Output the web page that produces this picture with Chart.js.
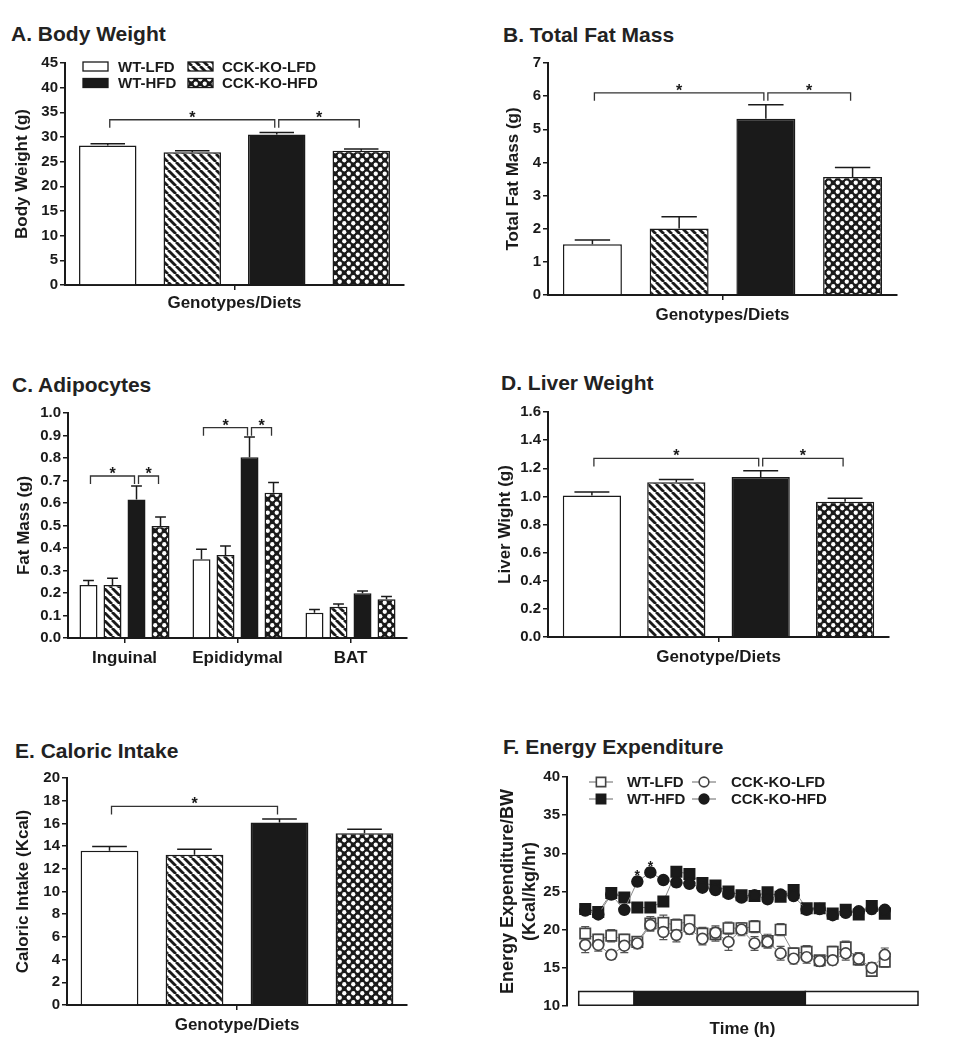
<!DOCTYPE html>
<html>
<head>
<meta charset="utf-8">
<script src="https://cdn.jsdelivr.net/npm/chart.js@4.4.1/dist/chart.umd.min.js"></script>
<style>
  body { margin: 0; background: #fff; width: 960px; height: 1050px; position: relative; overflow: hidden;
         font-family: "Liberation Sans", Arial, Helvetica, sans-serif; }
  .ttl { position: absolute; font-weight: bold; font-size: 21px; line-height: 1; color: #222; white-space: nowrap; }
  canvas { position: absolute; }
</style>
</head>
<body>
<div class="ttl" style="left:11px;top:23px">A. Body Weight</div>
<div class="ttl" style="left:503px;top:24px">B. Total Fat Mass</div>
<div class="ttl" style="left:12px;top:374px">C. Adipocytes</div>
<div class="ttl" style="left:501px;top:372px">D. Liver Weight</div>
<div class="ttl" style="left:15px;top:740px">E. Caloric Intake</div>
<div class="ttl" style="left:503px;top:736px">F. Energy Expenditure</div>

<canvas id="chartA"></canvas>
<canvas id="chartB"></canvas>
<canvas id="chartC"></canvas>
<canvas id="chartD"></canvas>
<canvas id="chartE"></canvas>
<canvas id="chartF"></canvas>

<script>
// ============================================
// DATA
// ============================================
const groups = ['WT-LFD', 'CCK-KO-LFD', 'WT-HFD', 'CCK-KO-HFD'];

// A. body weight (g)
const bodyWeight = [28.3, 26.9, 30.5, 27.2];
const bodyWeightErr = [0.35, 0.3, 0.4, 0.35];

// B. total fat mass (g)
const fatMass = [1.53, 2.01, 5.32, 3.56];
const fatMassErr = [0.13, 0.35, 0.42, 0.29];

// C. adipose depots (g)
const depots = ['Inguinal', 'Epididymal', 'BAT'];
const depotWtLfd = [0.236, 0.350, 0.112];
const depotKoLfd = [0.236, 0.369, 0.139];
const depotWtHfd = [0.616, 0.803, 0.199];
const depotKoHfd = [0.498, 0.646, 0.172];
const depotWtLfdErr = [0.02, 0.044, 0.015];
const depotKoLfdErr = [0.03, 0.04, 0.012];
const depotWtHfdErr = [0.06, 0.09, 0.01];
const depotKoHfdErr = [0.04, 0.045, 0.012];

// D. liver weight (g)
const liverWeight = [1.006, 1.10, 1.138, 0.961];
const liverWeightErr = [0.025, 0.02, 0.045, 0.025];

// E. caloric intake (Kcal)
const caloricIntake = [13.58, 13.23, 16.08, 15.14];
const caloricIntakeErr = [0.38, 0.5, 0.3, 0.35];

// F. energy expenditure (Kcal/kg/hr)
const hours = [1, 2, 3, 4, 5, 6, 7, 8, 9, 10, 11, 12, 13, 14, 15, 16, 17, 18, 19, 20, 21, 22, 23, 24];
const eeWtLfd = [19.5, 18.7, 19.2, 18.7, 18.4, 20.8, 20.9, 20.6, 21.2, 19.5, 19.4, 20.2, 20.2, 20.4, 18.5, 20.0, 16.9, 17.1, 16.0, 17.1, 17.7, 16.1, 14.6, 15.8];
const eeKoLfd = [18.0, 18.0, 16.7, 17.9, 18.2, 20.6, 19.7, 19.3, 20.1, 18.8, 19.6, 18.4, 20.0, 18.2, 18.4, 16.9, 16.2, 16.4, 15.9, 16.0, 16.9, 16.2, 15.0, 16.7];
const eeWtHfd = [22.7, 22.3, 24.8, 24.2, 22.9, 22.9, 23.7, 27.6, 27.3, 26.1, 25.8, 25.0, 24.5, 24.4, 24.9, 24.3, 25.2, 22.8, 22.8, 22.1, 22.6, 22.0, 23.1, 22.1];
const eeKoHfd = [22.5, 22.0, 24.6, 22.6, 26.3, 27.5, 26.5, 26.2, 26.0, 25.5, 25.2, 24.7, 24.2, 24.5, 24.0, 24.6, 24.4, 22.6, 22.7, 21.9, 22.2, 22.4, 22.7, 22.6];
const eeWtLfdErr = [0.9, 0.7, 0.8, 0.7, 0.6, 0.9, 1.0, 0.8, 0.7, 0.8, 0.9, 0.8, 0.7, 0.8, 0.9, 0.8, 0.7, 0.8, 0.6, 0.7, 0.8, 0.7, 0.6, 0.7];
const eeKoLfdErr = [1.0, 0.8, 0.6, 0.9, 0.7, 0.8, 1.0, 0.9, 0.7, 0.8, 0.9, 1.1, 0.8, 0.9, 0.8, 0.9, 0.7, 0.8, 0.7, 0.6, 0.9, 0.8, 0.7, 0.9];
const eeWtHfdErr = [0.5, 0.5, 0.6, 0.6, 0.5, 0.5, 0.6, 0.6, 0.6, 0.5, 0.5, 0.5, 0.6, 0.5, 0.5, 0.6, 0.5, 0.5, 0.5, 0.4, 0.5, 0.5, 0.5, 0.6];
const eeKoHfdErr = [0.5, 0.5, 0.6, 0.5, 0.6, 0.6, 0.5, 0.6, 0.5, 0.5, 0.5, 0.5, 0.5, 0.5, 0.6, 0.5, 0.5, 0.5, 0.5, 0.5, 0.5, 0.5, 0.6, 0.5];
const eeStars = [4, 5];   // CCK-KO-HFD points marked *

// light / dark phases on the time axis: [from, to, dark?]
const phases = [[0.5, 4.75, 0], [4.75, 17.9, 1], [17.9, 26.55, 0]];

// ============================================
// STYLE HELPERS
// ============================================
const FONT = '"Liberation Sans", Arial, Helvetica, sans-serif';
const INK = '#1a1a1a';
Chart.defaults.font.family = FONT;
Chart.defaults.color = INK;

function stripePattern() {
    const c = document.createElement('canvas');
    c.width = 8; c.height = 8;
    const g = c.getContext('2d');
    g.fillStyle = '#fff';
    g.fillRect(0, 0, 8, 8);
    g.strokeStyle = INK;
    g.lineWidth = 2.8;
    for (const k of [-8, 0, 8]) {
        g.beginPath(); g.moveTo(k, 0); g.lineTo(k + 8, 8); g.stroke();
    }
    return g.createPattern(c, 'repeat');
}

function dotPattern() {
    const c = document.createElement('canvas');
    c.width = 9; c.height = 9;
    const g = c.getContext('2d');
    g.fillStyle = INK;
    g.fillRect(0, 0, 9, 9);
    g.fillStyle = '#fff';
    [[2.25, 2.25], [6.75, 6.75]].forEach(([x, y]) => {
        g.beginPath(); g.arc(x, y, 2.15, 0, Math.PI * 2); g.fill();
    });
    return g.createPattern(c, 'repeat');
}

const fills = ['#ffffff', stripePattern(), INK, dotPattern()];

const tickFont = { family: FONT, size: 15, weight: 'bold' };
const titleFont = { family: FONT, size: 17, weight: 'bold', lineHeight: 1.2 };

function place(id, box) {
    const cv = document.getElementById(id);
    cv.width = box.w; cv.height = box.h;
    cv.style.left = box.x + 'px';
    cv.style.top = box.y + 'px';
    return cv;
}

// work out paddings so the plot area lands where it is in the figure
function frame(box, area, yTitleX, yLh, xTitleY, xLh, xHeight) {
    const padLeft = yTitleX - box.x - yLh / 2;
    const yW = area.l - box.x - padLeft;
    let xH = xHeight, padBottom;
    if (xTitleY != null) {
        const xBottom = xTitleY + xLh / 2;
        xH = xBottom - area.b;
        padBottom = box.y + box.h - xBottom;
    } else {
        padBottom = box.y + box.h - area.b - xH;
    }
    return {
        padding: { left: padLeft, top: area.t - box.y, right: box.x + box.w - area.r, bottom: padBottom },
        yW, xH
    };
}

function yAxis(min, max, step, title, yW, font, decimals) {
    return {
        min, max,
        ticks: {
            stepSize: step, color: INK, font: tickFont, padding: 2,
            callback: v => decimals ? Number(v).toFixed(decimals) : v
        },
        grid: { drawOnChartArea: false, tickLength: 5, color: INK, lineWidth: 1.5 },
        border: { display: true, color: INK, width: 2 },
        title: { display: true, text: title, color: INK, font: font || titleFont, padding: 0 },
        afterFit: s => { s.width = yW; }
    };
}

// ============================================
// PLUGINS
// ============================================
const errorBars = {
    id: 'errorBars',
    afterDatasetsDraw(chart) {
        const { ctx } = chart;
        const ys = chart.scales.y;
        chart.data.datasets.forEach((ds, di) => {
            if (!ds.errors) return;
            chart.getDatasetMeta(di).data.forEach((el, i) => {
                const y0 = ys.getPixelForValue(ds.data[i]);
                const y1 = ys.getPixelForValue(ds.data[i] + ds.errors[i]);
                const half = el.width * 0.3;
                ctx.save();
                ctx.strokeStyle = INK;
                ctx.lineWidth = 1.5;
                ctx.beginPath();
                ctx.moveTo(el.x, y0); ctx.lineTo(el.x, y1);
                ctx.moveTo(el.x - half, y1); ctx.lineTo(el.x + half, y1);
                ctx.stroke();
                ctx.restore();
            });
        });
    }
};

function brackets(list) {
    return {
        id: 'brackets',
        afterDraw(chart) {
            const { ctx } = chart;
            const ys = chart.scales.y;
            ctx.save();
            ctx.strokeStyle = '#333';
            ctx.lineWidth = 1.3;
            ctx.fillStyle = INK;
            ctx.font = `bold 16px ${FONT}`;
            ctx.textAlign = 'center';
            ctx.textBaseline = 'alphabetic';
            list.forEach(b => {
                const xa = chart.getDatasetMeta(b.a).data[b.cat].x + 2;
                const xb = chart.getDatasetMeta(b.b).data[b.cat].x - 2;
                const yy = ys.getPixelForValue(b.y);
                ctx.beginPath();
                ctx.moveTo(xa, yy + 8); ctx.lineTo(xa, yy); ctx.lineTo(xb, yy); ctx.lineTo(xb, yy + 8);
                ctx.stroke();
                ctx.fillText('*', (xa + xb) / 2, yy + 3);
            });
            ctx.restore();
        }
    };
}

const barLegend = {
    id: 'barLegend',
    afterDraw(chart) {
        const { ctx, chartArea: a } = chart;
        const cols = [{ sw: 18, tx: 53 }, { sw: 123, tx: 157 }];
        const rows = [3.5, 20];
        const slots = [[0, 0], [1, 0], [0, 1], [1, 1]];
        ctx.save();
        ctx.font = `bold 15px ${FONT}`;
        ctx.textBaseline = 'middle';
        chart.data.datasets.forEach((ds, i) => {
            const [c, r] = slots[i];
            const x = a.left + cols[c].sw, y = a.top + rows[r];
            ctx.fillStyle = ds.backgroundColor;
            ctx.fillRect(x, y - 4.5, 25, 9);
            ctx.strokeStyle = INK;
            ctx.lineWidth = 1.3;
            ctx.strokeRect(x, y - 4.5, 25, 9);
            ctx.fillStyle = INK;
            ctx.fillText(ds.label, a.left + cols[c].tx, y + 1);
        });
        ctx.restore();
    }
};

// ============================================
// BAR PANELS
// ============================================
function barPanel(id, p) {
    const cv = place(id, p.box);
    const f = frame(p.box, p.area, p.yTitleX, 20.4, p.xTitleY, 20.4, p.xHeight);
    const plugins = [errorBars, brackets(p.brackets)];
    if (p.legend) plugins.push(barLegend);
    return new Chart(cv, {
        type: 'bar',
        data: {
            labels: p.labels,
            datasets: groups.map((g, i) => ({
                label: g,
                data: p.series[i],
                errors: p.errors[i],
                backgroundColor: fills[i],
                borderColor: INK,
                borderWidth: 1.5,
                barPercentage: p.barPct,
                categoryPercentage: p.catPct
            }))
        },
        options: {
            responsive: false,
            animation: false,
            layout: { padding: f.padding },
            plugins: { legend: { display: false }, tooltip: { enabled: false } },
            scales: {
                x: {
                    offset: true,
                    ticks: { color: INK, font: { family: FONT, size: 17, weight: 'bold' }, padding: 5 },
                    grid: { drawOnChartArea: false, offset: false, tickLength: 5, color: INK, lineWidth: 1.5 },
                    border: { display: true, color: INK, width: 2 },
                    title: { display: !!p.xTitle, text: p.xTitle, color: INK, font: titleFont, padding: 0 },
                    afterFit: s => { s.height = f.xH; }
                },
                y: yAxis(p.min, p.max, p.step, p.yTitle, f.yW, null, p.decimals)
            }
        },
        plugins
    });
}

barPanel('chartA', {
    box: { x: 0, y: 50, w: 480, h: 280 }, area: { l: 65, t: 63, r: 404, b: 285 },
    yTitleX: 22, xTitleY: 303,
    labels: [''], series: bodyWeight.map(v => [v]), errors: bodyWeightErr.map(v => [v]),
    min: 0, max: 45, step: 5, yTitle: 'Body Weight (g)', xTitle: 'Genotypes/Diets',
    barPct: 0.68, catPct: 0.997, legend: true,
    brackets: [{ cat: 0, a: 0, b: 2, y: 33.5 }, { cat: 0, a: 2, b: 3, y: 33.5 }]
});

barPanel('chartB', {
    box: { x: 480, y: 50, w: 480, h: 290 }, area: { l: 548, t: 63, r: 897, b: 295 },
    yTitleX: 513, xTitleY: 315,
    labels: [''], series: fatMass.map(v => [v]), errors: fatMassErr.map(v => [v]),
    min: 0, max: 7, step: 1, yTitle: 'Total Fat Mass (g)', xTitle: 'Genotypes/Diets',
    barPct: 0.68, catPct: 0.994,
    brackets: [{ cat: 0, a: 0, b: 2, y: 6.1 }, { cat: 0, a: 2, b: 3, y: 6.1 }]
});

barPanel('chartC', {
    box: { x: 0, y: 380, w: 480, h: 300 }, area: { l: 68, t: 413, r: 407, b: 638 },
    yTitleX: 24, xTitleY: null, xHeight: 40,
    labels: depots,
    series: [depotWtLfd, depotKoLfd, depotWtHfd, depotKoHfd],
    errors: [depotWtLfdErr, depotKoLfdErr, depotWtHfdErr, depotKoHfdErr],
    min: 0, max: 1.0, step: 0.1, decimals: 1, yTitle: 'Fat Mass (g)', xTitle: '',
    barPct: 0.75, catPct: 0.85,
    brackets: [
        { cat: 0, a: 0, b: 2, y: 0.72 }, { cat: 0, a: 2, b: 3, y: 0.72 },
        { cat: 1, a: 0, b: 2, y: 0.935 }, { cat: 1, a: 2, b: 3, y: 0.935 }
    ]
});

barPanel('chartD', {
    box: { x: 480, y: 380, w: 480, h: 300 }, area: { l: 548, t: 412, r: 889, b: 637 },
    yTitleX: 505, xTitleY: 657,
    labels: [''], series: liverWeight.map(v => [v]), errors: liverWeightErr.map(v => [v]),
    min: 0, max: 1.6, step: 0.2, decimals: 1, yTitle: 'Liver Wight (g)', xTitle: 'Genotype/Diets',
    barPct: 0.69, catPct: 0.99,
    brackets: [{ cat: 0, a: 0, b: 2, y: 1.27 }, { cat: 0, a: 2, b: 3, y: 1.27 }]
});

barPanel('chartE', {
    box: { x: 0, y: 730, w: 480, h: 320 }, area: { l: 67, t: 778, r: 407, b: 1005 },
    yTitleX: 23, xTitleY: 1025,
    labels: [''], series: caloricIntake.map(v => [v]), errors: caloricIntakeErr.map(v => [v]),
    min: 0, max: 20, step: 2, yTitle: 'Caloric Intake (Kcal)', xTitle: 'Genotype/Diets',
    barPct: 0.68, catPct: 1.0,
    brackets: [{ cat: 0, a: 0, b: 2, y: 17.5 }]
});

// ============================================
// F. ENERGY EXPENDITURE (line)
// ============================================
const fSeries = [
    { label: 'WT-LFD', y: eeWtLfd, e: eeWtLfdErr, style: 'rect', fill: '#fff', edge: '#444', r: 7.3 },
    { label: 'CCK-KO-LFD', y: eeKoLfd, e: eeKoLfdErr, style: 'circle', fill: '#fff', edge: '#444', r: 5.4 },
    { label: 'WT-HFD', y: eeWtHfd, e: eeWtHfdErr, style: 'rect', fill: INK, edge: INK, r: 7.3 },
    { label: 'CCK-KO-HFD', y: eeKoHfd, e: eeKoHfdErr, style: 'circle', fill: INK, edge: INK, r: 5.4 }
];

const fErrors = {
    id: 'fErrors',
    beforeDatasetsDraw(chart) {
        const { ctx } = chart;
        const xs = chart.scales.x, ys = chart.scales.y;
        ctx.save();
        ctx.strokeStyle = '#555';
        ctx.lineWidth = 1.2;
        chart.data.datasets.forEach(ds => {
            ds.data.forEach((p, i) => {
                const x = xs.getPixelForValue(p.x);
                const yHi = ys.getPixelForValue(p.y + ds.errors[i]);
                const yLo = ys.getPixelForValue(p.y - ds.errors[i]);
                ctx.beginPath();
                ctx.moveTo(x, yLo); ctx.lineTo(x, yHi);
                ctx.moveTo(x - 4, yHi); ctx.lineTo(x + 4, yHi);
                ctx.moveTo(x - 4, yLo); ctx.lineTo(x + 4, yLo);
                ctx.stroke();
            });
        });
        ctx.restore();
    },
    afterDraw(chart) {
        const { ctx, chartArea: a } = chart;
        const xs = chart.scales.x, ys = chart.scales.y;
        ctx.save();
        // stars on CCK-KO-HFD
        const ko = chart.data.datasets[3];
        ctx.fillStyle = INK;
        ctx.font = `bold 14px ${FONT}`;
        ctx.textAlign = 'center';
        eeStars.forEach(i => {
            const p = ko.data[i];
            ctx.fillText('*', xs.getPixelForValue(p.x), ys.getPixelForValue(p.y + ko.errors[i]) + 3);
        });
        // light/dark bar
        const yTop = ys.getPixelForValue(11.9), yBot = ys.getPixelForValue(10.1);
        phases.forEach(([from, to, dark]) => {
            const x0 = xs.getPixelForValue(from), x1 = xs.getPixelForValue(to);
            ctx.fillStyle = dark ? INK : '#fff';
            ctx.fillRect(x0, yTop, x1 - x0, yBot - yTop);
            ctx.strokeStyle = INK;
            ctx.lineWidth = 1.5;
            ctx.strokeRect(x0, yTop, x1 - x0, yBot - yTop);
        });
        // legend
        const cols = [{ m: 34, t: 60 }, { m: 137, t: 164 }];
        const rows = [5, 22];
        const slots = [[0, 0], [1, 0], [0, 1], [1, 1]];
        ctx.font = `bold 15px ${FONT}`;
        ctx.textAlign = 'left';
        ctx.textBaseline = 'middle';
        fSeries.forEach((s, i) => {
            const [c, r] = slots[i];
            const mx = a.left + cols[c].m, my = a.top + rows[r];
            ctx.strokeStyle = '#666';
            ctx.lineWidth = 1;
            ctx.beginPath(); ctx.moveTo(mx - 12, my); ctx.lineTo(mx + 12, my); ctx.stroke();
            ctx.fillStyle = s.fill;
            ctx.strokeStyle = s.edge;
            ctx.lineWidth = 1.6;
            Chart.helpers.drawPoint(ctx, { pointStyle: s.style, radius: s.r * 0.9, rotation: 0, borderWidth: 1.6 }, mx, my);
            ctx.fillStyle = INK;
            ctx.fillText(s.label, a.left + cols[c].t, my + 1);
        });
        ctx.restore();
    }
};

(function () {
    const box = { x: 480, y: 730, w: 480, h: 320 };
    const area = { l: 567, t: 777, r: 918, b: 1006 };
    const cv = place('chartF', box);
    const f = frame(box, area, 508, 22, 1029, 20.4);
    new Chart(cv, {
        type: 'line',
        data: {
            datasets: fSeries.map((s, k) => ({
                label: s.label,
                data: hours.map((h, i) => ({ x: h, y: s.y[i] })),
                errors: s.e,
                borderColor: '#888',
                borderWidth: 1,
                pointStyle: s.style,
                pointRadius: s.r,
                pointBackgroundColor: s.fill,
                pointBorderColor: s.edge,
                pointBorderWidth: 1.7,
                tension: 0,
                fill: false,
                order: 4 - k
            }))
        },
        options: {
            responsive: false,
            animation: false,
            layout: { padding: f.padding },
            plugins: { legend: { display: false }, tooltip: { enabled: false } },
            scales: {
                x: {
                    type: 'linear', min: -0.4, max: 26.55,
                    ticks: { display: false },
                    grid: { display: false },
                    border: { display: false },
                    title: { display: true, text: 'Time (h)', color: INK, font: titleFont, padding: 0 },
                    afterFit: s => { s.height = f.xH; }
                },
                y: yAxis(10, 40, 5, ['Energy Expenditure/BW', '(Kcal/kg/hr)'], f.yW,
                    { family: FONT, size: 18, weight: 'bold', lineHeight: 22 / 18 })
            }
        },
        plugins: [fErrors]
    });
})();
</script>
</body>
</html>
